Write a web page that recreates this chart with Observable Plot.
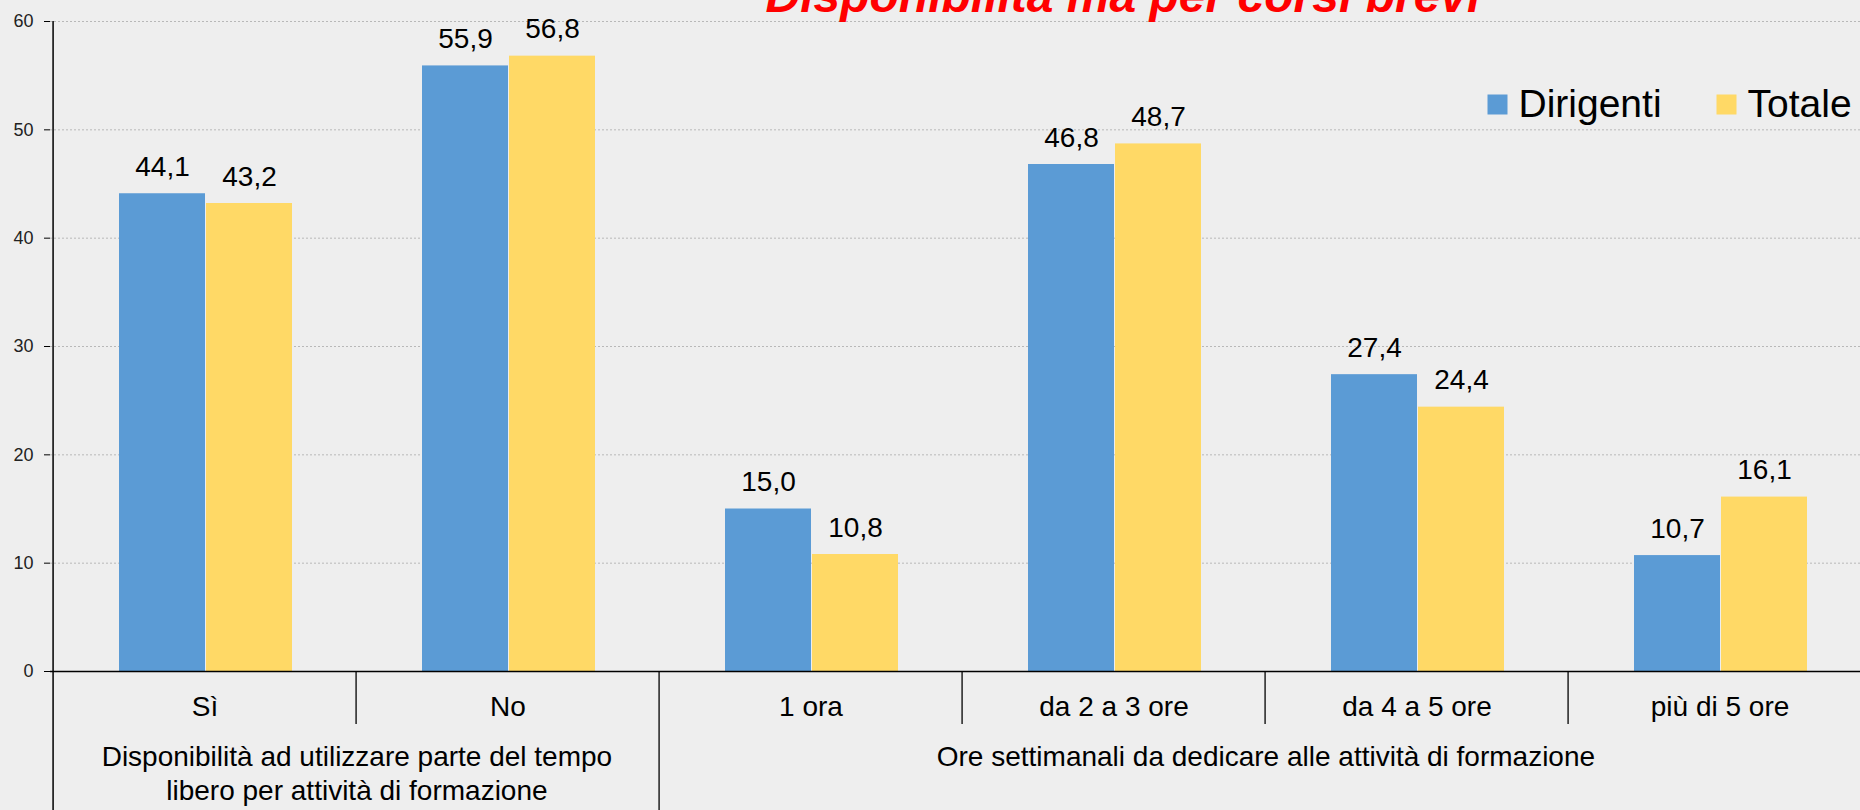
<!DOCTYPE html>
<html><head><meta charset="utf-8">
<script src="https://cdn.jsdelivr.net/npm/d3@7"></script>
<script src="https://cdn.jsdelivr.net/npm/@observablehq/plot@0.6"></script>
<style>
html,body{margin:0;padding:0;background:#eeeeee;overflow:hidden;}
#wrap{width:1860px;height:810px;overflow:hidden;}
</style></head><body><div id="wrap"></div>
<script>
const categories = ["Sì", "No", "1 ora", "da 2 a 3 ore", "da 4 a 5 ore", "più di 5 ore"];
const dirigenti = [44.1, 55.9, 15.0, 46.8, 27.4, 10.7];
const totale = [43.2, 56.8, 10.8, 48.7, 24.4, 16.1];
const seriesNames = ["Dirigenti", "Totale"];
const seriesColors = ["#5B9BD5", "#FFD966"];
const groupLabels = ["Disponibilità ad utilizzare parte del tempo\nlibero per attività di formazione",
                     "Ore settimanali da dedicare alle attività di formazione"];
const groupSizes = [2, 4];
const yTicks = [0, 10, 20, 30, 40, 50, 60];
const title = "Disponibilità ma per corsi brevi";

const W = 1873, H = 810, ML = 50, MT = 21, Y0 = 671;
const bw = (W - ML) / categories.length;
const font = "'Liberation Sans', Arial, Helvetica, sans-serif";
const fmt = v => v.toFixed(1).replace(".", ",");

const rows = categories.map((c, i) => ({category: c, Dirigenti: dirigenti[i], Totale: totale[i]}));

let s0 = 0;
const groupStarts = new Set();
const groupRows = groupLabels.map((label, g) => {
  groupStarts.add(s0);
  const mid = categories[s0 + groupSizes[g] / 2 - 1];
  s0 += groupSizes[g];
  return {label, mid};
});
const seps = categories.map((c, i) => ({category: c, kind: i === 0 ? "axis" : groupStarts.has(i) ? "long" : "short"}));

// legend layout (offsets from the frame's top-left corner)
const legendOffsets = [1447, 1676];
const legendMarks = seriesNames.flatMap((name, i) => [
  Plot.dot([name], {frameAnchor: "top-left", dx: legendOffsets[i], dy: 83, symbol: "square", r: 11.28, fill: seriesColors[i]}),
  Plot.text([name], {frameAnchor: "top-left", text: d => d, dx: legendOffsets[i] + 21, dy: 95, textAnchor: "start",
    lineAnchor: "bottom", fontSize: 39, fill: "#000"})
]);

const chart = Plot.plot({
  width: W, height: H, marginLeft: ML, marginRight: 0, marginTop: MT, marginBottom: 0,
  style: {background: "#eeeeee", maxWidth: "none", fontFamily: font, color: "#000"},
  x: {type: "band", domain: categories, padding: 0, axis: null},
  y: {domain: [0, 60], range: [Y0, MT], axis: null},
  marks: [
    Plot.gridY(yTicks.filter(t => t > 0), {stroke: "#b8b8b8", strokeOpacity: 1, strokeDasharray: "2,2"}),
    Plot.barY(rows, {x: "category", y: "Dirigenti", fill: seriesColors[0], insetLeft: 66, insetRight: 151}),
    Plot.barY(rows, {x: "category", y: "Totale", fill: seriesColors[1], insetLeft: 153, insetRight: 64}),
    Plot.text(rows, {x: "category", y: "Dirigenti", text: d => fmt(d.Dirigenti), dx: -42.5, dy: -18,
      lineAnchor: "bottom", fontSize: 28, fill: "#000"}),
    Plot.text(rows, {x: "category", y: "Totale", text: d => fmt(d.Totale), dx: 44.5, dy: -18,
      lineAnchor: "bottom", fontSize: 28, fill: "#000"}),
    Plot.ruleY([0], {stroke: "#000", strokeWidth: 1.5}),
    Plot.axisY({ticks: yTicks, tickSize: 6, tickPadding: 11, fontSize: 18, label: null, stroke: "#000", fill: "#222"}),
    Plot.ruleX(seps.filter(d => d.kind === "axis"), {x: "category", dx: -bw / 2, stroke: "#000", strokeWidth: 1.5}),
    Plot.ruleX(seps.filter(d => d.kind === "long"), {x: "category", y1: () => 0, y2: () => 0, insetBottom: -(H - Y0),
      dx: -bw / 2, stroke: "#000", strokeWidth: 1.3}),
    Plot.ruleX(seps.filter(d => d.kind === "short"), {x: "category", y1: () => 0, y2: () => 0, insetBottom: -53,
      dx: -bw / 2, stroke: "#000", strokeWidth: 1.3}),
    Plot.text(categories, {x: d => d, y: () => 0, text: d => d, dy: 44, lineAnchor: "bottom", fontSize: 28, fill: "#000"}),
    Plot.text(groupRows, {x: "mid", y: () => 0, text: "label", dx: bw / 2, dy: 70, lineAnchor: "top",
      lineHeight: 1.214, fontSize: 28, fill: "#000"}),
    Plot.text([title], {frameAnchor: "top-left", text: d => d, dx: 715, dy: -10, textAnchor: "start",
      lineAnchor: "bottom", fontSize: 48, fontWeight: "bold", fontStyle: "italic", fill: "#ff0000"}),
    ...legendMarks
  ]
});
document.getElementById("wrap").appendChild(chart);
</script></body></html>
